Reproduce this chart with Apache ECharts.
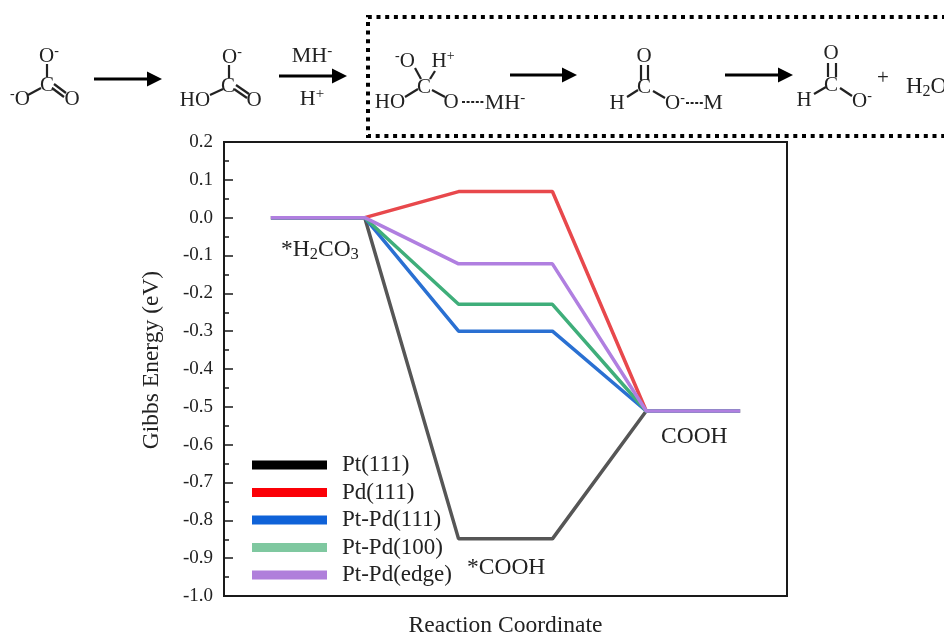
<!DOCTYPE html>
<html>
<head>
<meta charset="utf-8">
<style>html,body{margin:0;padding:0;background:#fff}#main{width:944px;height:635px}</style>
<script src="https://cdn.jsdelivr.net/npm/echarts@6/dist/echarts.min.js"></script>
</head>
<body>
<div id="main"></div>
<script>
var stages = ['*H2CO3', '*H2CO3 end', '*COOH', '*COOH end', 'COOH', 'COOH end'];
var pt111 = [0, 0, -0.849, -0.849, -0.511, -0.511];
var pd111 = [0, 0, 0.069, 0.069, -0.511, -0.511];
var ptpd111 = [0, 0, -0.300, -0.300, -0.511, -0.511];
var ptpd100 = [0, 0, -0.229, -0.229, -0.511, -0.511];
var ptpdEdge = [0, 0, -0.122, -0.122, -0.511, -0.511];
var names = ['Pt(111)', 'Pd(111)', 'Pt-Pd(111)', 'Pt-Pd(100)', 'Pt-Pd(edge)'];
var lineColors = ['#565656', '#e8484c', '#2a70d2', '#3fae7a', '#b07fe0'];
var legendColors = ['#000000', '#fb0007', '#0f62d8', '#7fc8a0', '#b07fdb'];

var serif = '"Liberation Serif", "Times New Roman", serif';
var ink = '#222';

function richStyle(size){
    return {
        a:{fontFamily:serif,fontSize:size,fill:ink,color:ink,lineHeight:size+2,verticalAlign:'middle'},
        d:{fontFamily:serif,fontSize:size-7,fill:ink,color:ink,lineHeight:size-7,padding:[size-2,0,0,0],verticalAlign:'bottom'},
        u:{fontFamily:serif,fontSize:size-7,fill:ink,color:ink,lineHeight:size-7,padding:[0,0,size-4,0],verticalAlign:'top'}
    };
}
//文字
function txt(x,y,s,size,align){
    size = size || 21;
    return {type:'text',x:x,y:y,silent:true,style:{
        text:s,rich:richStyle(size),font:size+'px '+serif,fill:ink,
        align:align||'center',verticalAlign:'middle'
    }};
}
function bond(x1,y1,x2,y2,w){
    return {type:'line',silent:true,shape:{x1:x1,y1:y1,x2:x2,y2:y2},style:{stroke:ink,lineWidth:w||2.2}};
}
function dashes(x1,x2,y){
    return {type:'line',silent:true,shape:{x1:x1,y1:y,x2:x2,y2:y},style:{stroke:ink,lineWidth:2,lineDash:[3,1.6]}};
}
function arrow(x1,x2,y){
    return [
        {type:'line',silent:true,shape:{x1:x1,y1:y,x2:x2-14,y2:y},style:{stroke:'#000',lineWidth:3}},
        {type:'polygon',silent:true,shape:{points:[[x2-15,y-7.5],[x2,y],[x2-15,y+7.5]]},style:{fill:'#000'}}
    ];
}

var scheme = [
    // 第一个
    txt(49,56,'{a|O}{u|-}'), txt(47,85,'{a|C}'), txt(20,99,'{u|-}{a|O}'), txt(72,99,'{a|O}'),
    bond(47,64,47,77), bond(28,95,41,88), bond(54,84,66,93), bond(52,88,64,97),
    // 第二个
    txt(232,57,'{a|O}{u|-}'), txt(228,86,'{a|C}'), txt(195,100,'{a|HO}'), txt(254,100,'{a|O}'),
    bond(229,65,229,78), bond(210,95,223,89), bond(236,85,249,94), bond(234,89,247,98),
    txt(312,56,'{a|MH}{u|-}',22), txt(312,99,'{a|H}{u|+}',22),
    // 第三个
    txt(405,61,'{u|-}{a|O}'), txt(443,61,'{a|H}{u|+}'), txt(424,87,'{a|C}'), txt(390,102,'{a|HO}'), txt(451,102,'{a|O}'),
    bond(415,68,421,79), bond(435,71,430,79), bond(405,97,418,89), bond(432,90,445,97),
    dashes(462,484,102), txt(505,103,'{a|MH}{u|-}',22),
    // 第四个
    txt(644,56,'{a|O}'), txt(644,87,'{a|C}'), txt(617,103,'{a|H}'), txt(675,103,'{a|O}{u|-}'), txt(713,103,'{a|M}',22),
    bond(641,65,641,80), bond(648,65,648,80), bond(627,97,638,90), bond(653,91,665,98), dashes(686,703,103),
    // 第五个
    txt(831,53,'{a|O}'), txt(831,85,'{a|C}'), txt(804,100,'{a|H}'), txt(862,101,'{a|O}{u|-}'),
    bond(828,63,828,77), bond(836,63,836,77), bond(814,94,826,87), bond(840,88,852,96),
    txt(883,78,'{a|+}'), txt(906,87,'{a|H}{d|2}{a|O}',23,'left'),
    // 虚线框
    {type:'polyline',silent:true,shape:{points:[[946,17],[368,17],[368,136],[946,136]]},
     style:{stroke:'#000',lineWidth:4,lineDash:[4,4.7],fill:null}},
    // 曲线标注
    txt(281,250,'{a|*H}{d|2}{a|CO}{d|3}',23.5,'left'),
    txt(661,437,'{a|COOH}',23.5,'left'),
    txt(467,568,'{a|*COOH}',23.5,'left')
];
scheme = scheme.concat(arrow(94,162,79), arrow(279,347,76), arrow(510,577,75), arrow(725,793,75));

var allData = [pt111, pd111, ptpd111, ptpd100, ptpdEdge];
var seriesList = [];
var legendData = [];
for(var i = 0; i < names.length; i++){
    seriesList.push({
        name:names[i],type:'line',data:allData[i],symbol:'none',
        lineStyle:{color:lineColors[i],width:3.5},itemStyle:{color:lineColors[i]},
        animation:false
    });
    legendData.push({name:names[i],icon:'rect',itemStyle:{color:legendColors[i]}});
}

var myChart = echarts.init(document.getElementById('main'),null,{renderer:'canvas'});
myChart.setOption({
    backgroundColor:'#fff',
    animation:false,
    grid:{left:224,top:142,width:563,height:454,outerBoundsMode:'none',show:true,borderColor:'#1a1a1a',borderWidth:2,backgroundColor:'transparent'},
    legend:{
        data:legendData,orient:'vertical',left:247,top:448,itemWidth:75,itemHeight:9,itemGap:3.5,
        selectedMode:false,
        textStyle:{fontFamily:serif,fontSize:23,color:ink,padding:[0,0,0,10],lineHeight:24}
    },
    xAxis:{
        type:'category',data:stages,boundaryGap:true,
        axisLine:{show:false},axisTick:{show:false},axisLabel:{show:false},splitLine:{show:false},
        name:'Reaction Coordinate',nameLocation:'middle',nameGap:18,
        nameTextStyle:{fontFamily:serif,fontSize:23.5,color:ink}
    },
    yAxis:{
        type:'value',min:-1.0,max:0.2,interval:0.1,
        axisLine:{show:true,lineStyle:{color:'#1a1a1a',width:2}},
        axisTick:{show:true,inside:true,length:9,lineStyle:{color:'#1a1a1a',width:1.5}},
        minorTick:{show:true,splitNumber:2,length:5,lineStyle:{color:'#1a1a1a',width:1.5}},
        splitLine:{show:false},
        axisLabel:{fontFamily:serif,fontSize:19,color:ink,margin:11,padding:[2,0,0,0],formatter:function(v){return v.toFixed(1);}},
        name:'Gibbs Energy (eV)',nameLocation:'middle',nameGap:60,
        nameTextStyle:{fontFamily:serif,fontSize:23.5,color:ink,padding:[0,0,0,18]}
    },
    series:seriesList,
    graphic:{elements:scheme}
});
</script>
</body>
</html>
